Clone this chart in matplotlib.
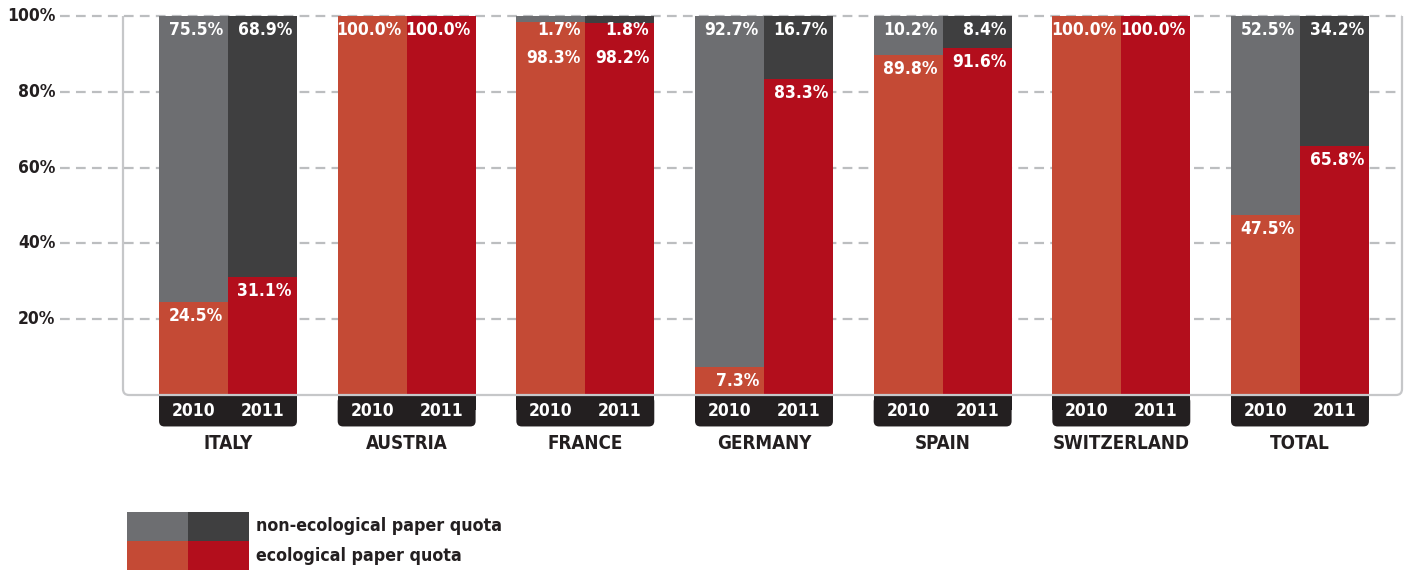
import matplotlib
matplotlib.use("Agg")
import matplotlib.pyplot as plt
from matplotlib.patches import Rectangle, FancyBboxPatch, PathPatch
from matplotlib.path import Path
import numpy as np

plt.rcParams['font.family'] = ['DejaVu Sans']
plt.rcParams['font.stretch'] = 'condensed'
plt.rcParams['font.weight'] = 'bold'
plt.rcParams['lines.scale_dashes'] = False

# data
countries = ["ITALY", "AUSTRIA", "FRANCE", "GERMANY", "SPAIN", "SWITZERLAND", "TOTAL"]
years = ["2010", "2011"]
eco_2010 = [24.5, 100.0, 98.3, 7.3, 89.8, 100.0, 47.5]
eco_2011 = [31.1, 100.0, 98.2, 83.3, 91.6, 100.0, 65.8]
non_2010 = [75.5, 0.0, 1.7, 92.7, 10.2, 0.0, 52.5]
non_2011 = [68.9, 0.0, 1.8, 16.7, 8.4, 0.0, 34.2]
yticks = [20, 40, 60, 80, 100]

C_NON = ["#6d6e71", "#3f3f40"]
C_ECO = ["#c44a35", "#b30e1c"]
DARK = "#231f20"
GRID = "#bcbec0"
FRAME = "#c6c7c9"

W, H = 1410, 570
fig = plt.figure(figsize=(W / 100, H / 100), dpi=100)
# axes frame in pixels: left 123, right 1402, top 16, bottom 395
ax = fig.add_axes([123 / W, 1 - 395 / H, (1402 - 123) / W, (395 - 16) / H])

bw = 0.386
x = np.arange(len(countries))
ax.set_xlim(-0.5876, 6.571)
ax.set_ylim(0, 100)

px_y = 100 / 379  # data units per pixel (y)

# grid lines (extend left of frame)
for t in yticks:
    ax.plot([-0.049, 1], [t, t], transform=ax.get_yaxis_transform(),
            color=GRID, lw=1.6, dashes=(7, 4.5), clip_on=False, zorder=0)
    ax.text(-0.053, t, f"{t}%", transform=ax.get_yaxis_transform(),
            ha="right", va="center", fontsize=12.5, color=DARK)

for k, (eco, non) in enumerate([(eco_2010, non_2010), (eco_2011, non_2011)]):
    xs = x + (k - 0.5) * bw
    ax.bar(xs, eco, width=bw, color=C_ECO[k], zorder=3, linewidth=0)
    ax.bar(xs, non, width=bw, bottom=eco, color=C_NON[k], zorder=3, linewidth=0)
    for i in range(len(countries)):
        xr = xs[i] + bw / 2 - 5 / 178.7
        base_non = None
        if non[i] > 0:
            base_non = 100 - 19 * px_y
            ax.text(xr, base_non, f"{non[i]:.1f}%", ha="right", va="baseline",
                    color="white", fontsize=12.5, zorder=5)
        y_eco = eco[i] - 19 * px_y
        if base_non is not None:
            y_eco = min(y_eco, base_non - 28 * px_y)
        ax.text(xr, y_eco, f"{eco[i]:.1f}%", ha="right", va="baseline",
                color="white", fontsize=12.5, zorder=5)

# year boxes and labels under each group
for i, c in enumerate(countries):
    x0 = x[i] - bw
    box = FancyBboxPatch((x0, -8.3), 2 * bw, 8.0,
                         boxstyle="round,pad=0,rounding_size=0.03",
                         mutation_aspect=47, facecolor=DARK, edgecolor="none",
                         clip_on=False, zorder=2)
    ax.add_patch(box)
    ax.add_patch(Rectangle((x0, -4), 2 * bw, 3.7, facecolor=DARK, edgecolor="none",
                           clip_on=False, zorder=2))
    for k, yr in enumerate(years):
        ax.text(x[i] + (k - 0.5) * bw, -4.3, yr, ha="center", va="center",
                color="white", fontsize=12.5, zorder=5)
    ax.text(x[i], -12.8, c, ha="center", va="center", color=DARK, fontsize=13.5)

ax.set_xticks([])
ax.set_yticks([])
for s in ax.spines.values():
    s.set_visible(False)
ax.patch.set_visible(False)

# open frame (left, bottom, right) with rounded bottom corners
rx, ry = 6 / 1279, 6 / 379
verts = [(0, 1), (0, ry), (0, 0), (rx, 0), (1 - rx, 0), (1, 0), (1, ry), (1, 1)]
codes = [Path.MOVETO, Path.LINETO, Path.CURVE3, Path.CURVE3,
         Path.LINETO, Path.CURVE3, Path.CURVE3, Path.LINETO]
ax.add_patch(PathPatch(Path(verts, codes), transform=ax.transAxes, fill=False,
                       edgecolor=FRAME, lw=1.6, clip_on=False, zorder=4))

# legend
def fig_rect(x0, y0, x1, y1, color):
    fig.add_artist(Rectangle((x0 / W, 1 - y1 / H), (x1 - x0) / W, (y1 - y0) / H,
                             transform=fig.transFigure, facecolor=color,
                             edgecolor="none"))

fig_rect(127, 512, 188, 541, C_NON[0])
fig_rect(188, 512, 249, 541, C_NON[1])
fig_rect(127, 541, 188, 570, C_ECO[0])
fig_rect(188, 541, 249, 570, C_ECO[1])
fig.text(256 / W, 1 - 526 / H, "non-ecological paper quota", ha="left", va="center",
         fontsize=12.8, color=DARK)
fig.text(256 / W, 1 - 556 / H, "ecological paper quota", ha="left", va="center",
         fontsize=12.8, color=DARK)

fig.savefig("out.png", dpi=100)
